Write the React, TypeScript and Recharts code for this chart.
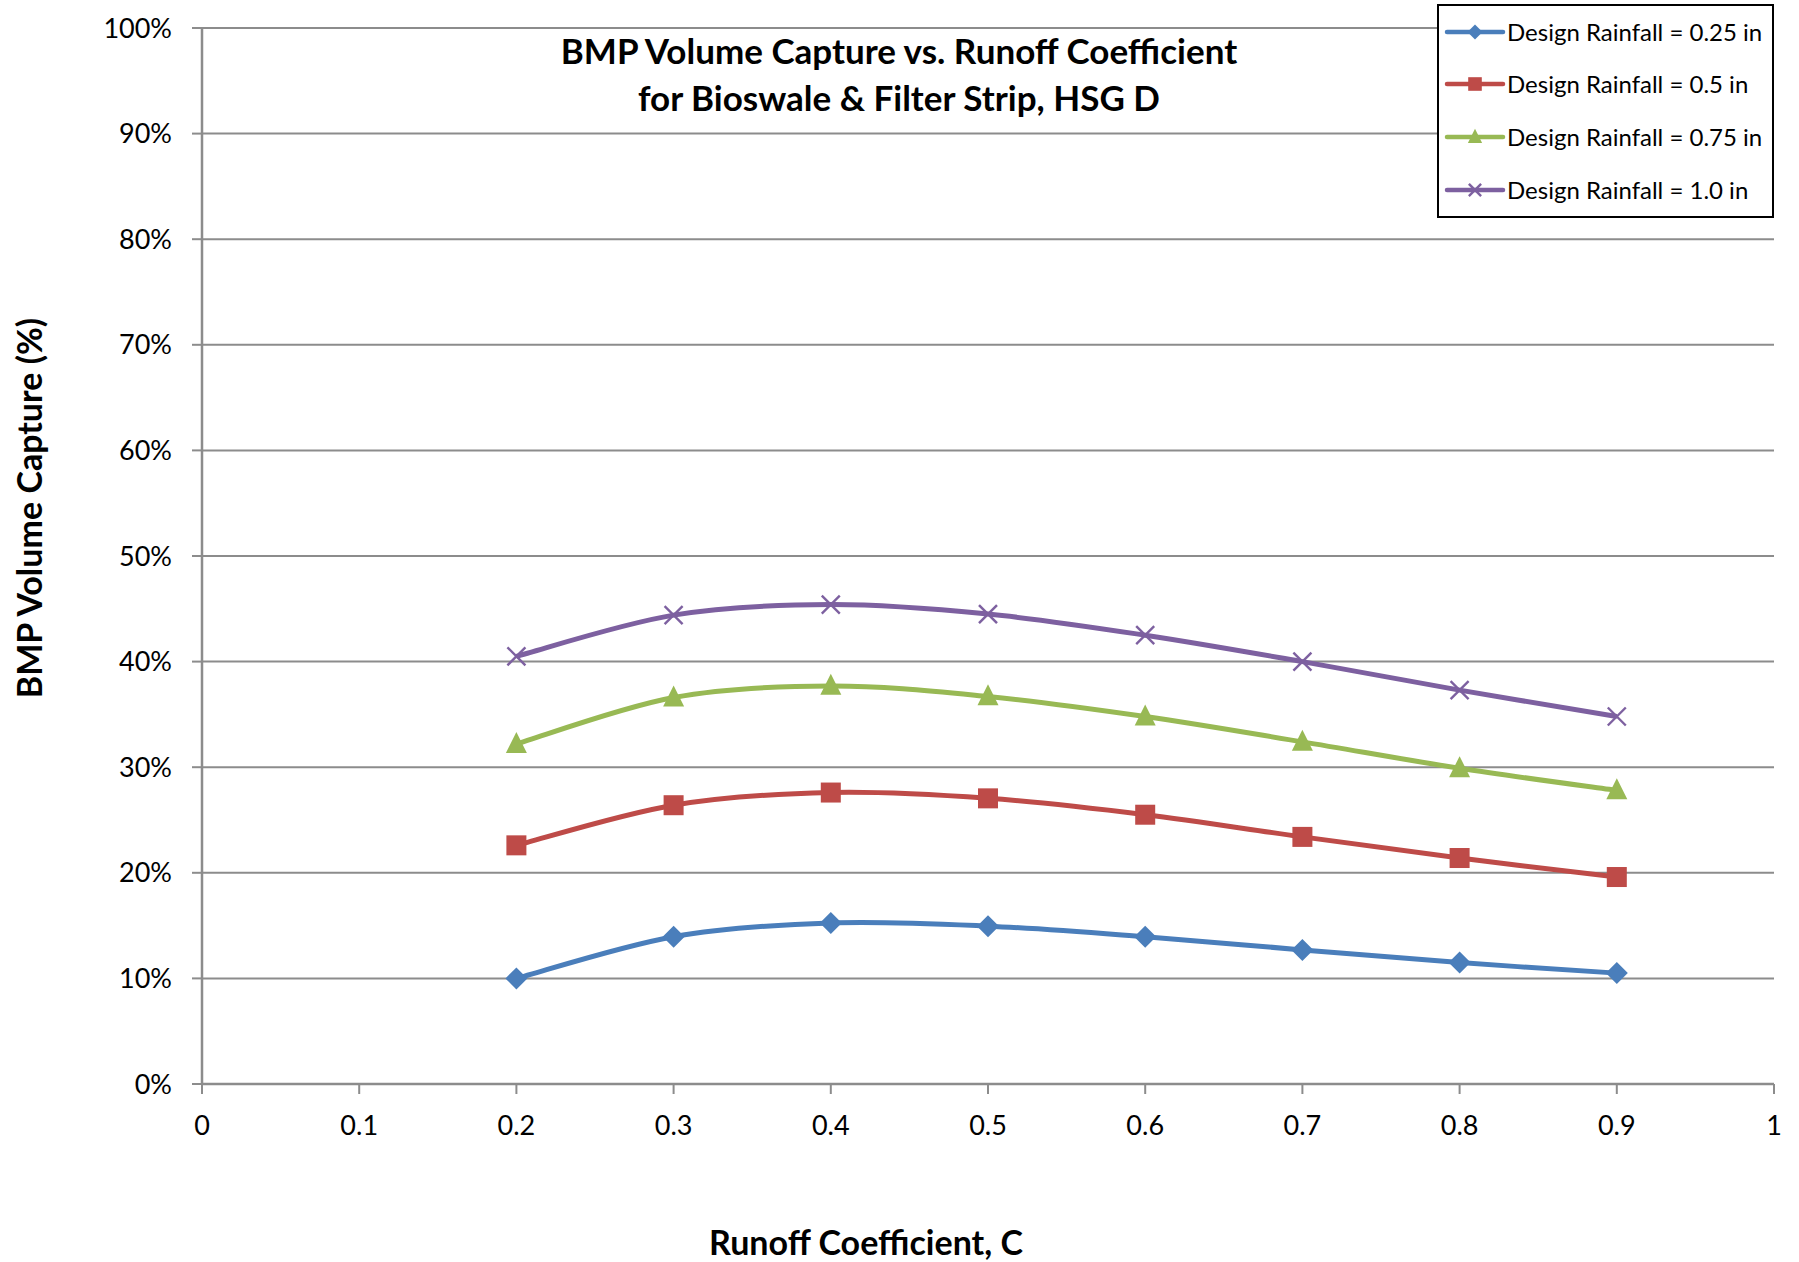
import React from "react";
import { LineChart, Line, XAxis, YAxis, CartesianGrid, Legend, Label } from "recharts";

// Runoff coefficient values along the x axis
const runoffC = [0.2, 0.3, 0.4, 0.5, 0.6, 0.7, 0.8, 0.9];

// BMP volume capture (%) for each design rainfall depth
const rain025 = [10.0, 13.95, 15.25, 14.95, 13.95, 12.7, 11.5, 10.5];
const rain05 = [22.6, 26.4, 27.6, 27.05, 25.5, 23.4, 21.4, 19.6];
const rain075 = [32.2, 36.6, 37.7, 36.7, 34.8, 32.4, 29.9, 27.8];
const rain10 = [40.5, 44.4, 45.4, 44.5, 42.5, 40.0, 37.3, 34.8];

const xTicks = [0, 0.1, 0.2, 0.3, 0.4, 0.5, 0.6, 0.7, 0.8, 0.9, 1];
const yTicks = [0, 10, 20, 30, 40, 50, 60, 70, 80, 90, 100];

const seriesNames = [
  "Design Rainfall = 0.25 in",
  "Design Rainfall = 0.5 in",
  "Design Rainfall = 0.75 in",
  "Design Rainfall = 1.0 in",
];

const data = runoffC.map((c, i) => ({
  c,
  r025: rain025[i],
  r05: rain05[i],
  r075: rain075[i],
  r10: rain10[i],
}));

type Shape = "diamond" | "square" | "triangle" | "x";

const series: { key: string; name: string; color: string; shape: Shape }[] = [
  { key: "r025", name: seriesNames[0], color: "#4a7ebb", shape: "diamond" },
  { key: "r05", name: seriesNames[1], color: "#be4b48", shape: "square" },
  { key: "r075", name: seriesNames[2], color: "#98b954", shape: "triangle" },
  { key: "r10", name: seriesNames[3], color: "#7d60a0", shape: "x" },
];

const FONT = "Lato, 'Open Sans', sans-serif";
const GRID = "#8c8c8c";

// Smooth cubic curve through every point (Catmull-Rom style control points)
const smoothCurve = (context: any) => {
  let xs: number[] = [];
  let ys: number[] = [];
  return {
    areaStart() {},
    areaEnd() {},
    lineStart() {
      xs = [];
      ys = [];
    },
    point(x: number, y: number) {
      xs.push(+x);
      ys.push(+y);
    },
    lineEnd() {
      const n = xs.length;
      if (!n) return;
      context.moveTo(xs[0], ys[0]);
      const k = 1 / 6;
      for (let i = 0; i < n - 1; i++) {
        const p0 = Math.max(i - 1, 0);
        const p3 = Math.min(i + 2, n - 1);
        context.bezierCurveTo(
          xs[i] + (xs[i + 1] - xs[p0]) * k,
          ys[i] + (ys[i + 1] - ys[p0]) * k,
          xs[i + 1] - (xs[p3] - xs[i]) * k,
          ys[i + 1] - (ys[p3] - ys[i]) * k,
          xs[i + 1],
          ys[i + 1]
        );
      }
    },
  };
};

function Marker({
  shape,
  cx,
  cy,
  color,
  scale = 1,
}: {
  shape: Shape;
  cx: number;
  cy: number;
  color: string;
  scale?: number;
}) {
  if (cx == null || cy == null) return null;
  if (shape === "diamond") {
    const s = 11 * scale;
    return (
      <polygon
        points={`${cx},${cy - s} ${cx + s},${cy} ${cx},${cy + s} ${cx - s},${cy}`}
        fill={color}
      />
    );
  }
  if (shape === "square") {
    const s = 10 * scale;
    return <rect x={cx - s} y={cy - s} width={2 * s} height={2 * s} fill={color} />;
  }
  if (shape === "triangle") {
    const h = 10.5 * scale;
    const w = 10.5 * scale;
    return (
      <polygon
        points={`${cx},${cy - h * 1.15} ${cx + w},${cy + h * 0.85} ${cx - w},${cy + h * 0.85}`}
        fill={color}
      />
    );
  }
  const s = 9 * scale;
  return (
    <g stroke={color} strokeWidth={2.4}>
      <line x1={cx - s} y1={cy - s} x2={cx + s} y2={cy + s} />
      <line x1={cx - s} y1={cy + s} x2={cx + s} y2={cy - s} />
    </g>
  );
}

function LegendBox() {
  return (
    <div
      style={{
        position: "relative",
        width: 337,
        height: 214,
        border: "2px solid #000",
        boxSizing: "border-box",
        background: "#fff",
      }}
    >
      {series.map((s, i) => {
        const cy = 25.5 + i * 52.7;
        return (
          <div key={s.key} style={{ position: "absolute", left: 0, top: cy - 20, height: 40, width: 335 }}>
            <svg width={70} height={40} style={{ position: "absolute", left: 0, top: 0 }}>
              <line x1={8} y1={20} x2={64} y2={20} stroke={s.color} strokeWidth={4.5} strokeLinecap="round" />
              <Marker shape={s.shape} cx={36} cy={20} color={s.color} scale={0.68} />
            </svg>
            <span
              style={{
                position: "absolute",
                left: 68,
                top: 0,
                lineHeight: "40px",
                fontFamily: FONT,
                fontSize: 24,
                color: "#000",
                whiteSpace: "nowrap",
              }}
            >
              {s.name}
            </span>
          </div>
        );
      })}
    </div>
  );
}

export default function App() {
  return (
    <div style={{ position: "absolute", left: 0, top: 0, width: 1799, height: 1262, background: "#fff" }}>
      <LineChart
        width={1799}
        height={1262}
        data={data}
        margin={{ top: 28, right: 25, bottom: 0, left: 0 }}
      >
        <CartesianGrid vertical={false} stroke={GRID} strokeWidth={2} />
        <XAxis
          dataKey="c"
          type="number"
          domain={[0, 1]}
          ticks={xTicks}
          interval={0}
          height={178}
          axisLine={{ stroke: GRID, strokeWidth: 2.5 }}
          tickLine={{ stroke: GRID, strokeWidth: 2 }}
          tickSize={10}
          tickMargin={22}
          tick={{ fill: "#000", fontSize: 27, fontFamily: FONT }}
          tickFormatter={(v: number) => String(v)}
        >
          <Label
            content={() => (
              <text
                x={866}
                y={1241}
                textAnchor="middle"
                dominantBaseline="central"
                fontFamily={FONT}
                fontWeight="bold"
                fontSize={34}
                fill="#000"
              >
                Runoff Coefficient, C
              </text>
            )}
          />
        </XAxis>
        <YAxis
          type="number"
          domain={[0, 100]}
          ticks={yTicks}
          interval={0}
          width={202}
          axisLine={{ stroke: GRID, strokeWidth: 2.5 }}
          tickLine={{ stroke: GRID, strokeWidth: 2 }}
          tickSize={10}
          tickMargin={20}
          tick={{ fill: "#000", fontSize: 27, fontFamily: FONT }}
          tickFormatter={(v: number) => `${v}%`}
        >
          <Label
            content={() => (
              <text
                x={28}
                y={508}
                transform="rotate(-90 28 508)"
                textAnchor="middle"
                dominantBaseline="central"
                fontFamily={FONT}
                fontWeight="bold"
                fontSize={34}
                fill="#000"
              >
                BMP Volume Capture (%)
              </text>
            )}
          />
        </YAxis>
        <Legend
          layout="vertical"
          align="center"
          verticalAlign="middle"
          wrapperStyle={{ position: "absolute", left: 1437, top: 4, width: 337, height: 214 }}
          content={() => <LegendBox />}
        />
        {series.map((s) => (
          <Line
            key={s.key}
            dataKey={s.key}
            name={s.name}
            type={smoothCurve as any}
            stroke={s.color}
            strokeWidth={5}
            isAnimationActive={false}
            dot={(p: any) => <Marker key={`${s.key}-${p.index}`} shape={s.shape} cx={p.cx} cy={p.cy} color={s.color} />}
            activeDot={false}
          />
        ))}
      </LineChart>
      <div
        style={{
          position: "absolute",
          left: 899,
          top: 27,
          transform: "translateX(-50%)",
          textAlign: "center",
          fontFamily: FONT,
          fontWeight: "bold",
          fontSize: 35,
          lineHeight: "47px",
          color: "#000",
          whiteSpace: "nowrap",
        }}
      >
        BMP Volume Capture vs. Runoff Coefficient
        <br />
        for Bioswale &amp; Filter Strip, HSG D
      </div>
    </div>
  );
}
